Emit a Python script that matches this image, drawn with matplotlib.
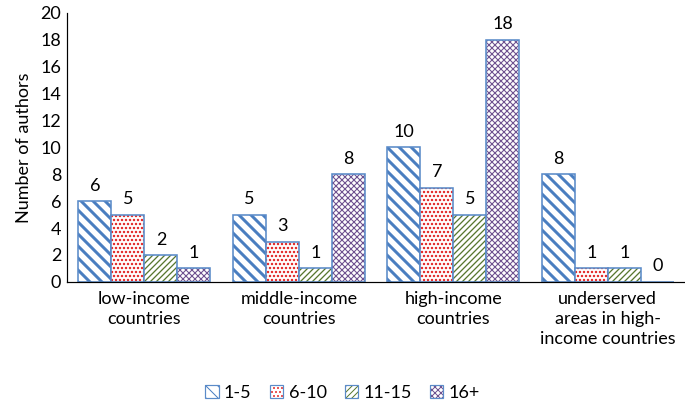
import matplotlib
matplotlib.use('Agg')
import matplotlib.pyplot as plt
import numpy as np

plt.rcParams['font.family'] = ['Lato', 'DejaVu Sans']

# Data
categories = ['low-income\ncountries', 'middle-income\ncountries', 'high-income\ncountries',
              'underserved\nareas in high-\nincome countries']
series_names = ['1-5', '6-10', '11-15', '16+']
s_1_5 = [6, 5, 10, 8]
s_6_10 = [5, 3, 7, 1]
s_11_15 = [2, 1, 5, 1]
s_16_plus = [1, 8, 18, 0]
values = [s_1_5, s_6_10, s_11_15, s_16_plus]

edge_blue = '#5B8BC9'
hatch_colors = ['#4A7EC0', '#E01010', '#587830', '#6F5290']
hatches = ['\\\\', '...', '////', 'xxxx']
hatch_lw = [3.0, 1.6, 1.3, 1.1]

fig = plt.figure(figsize=(685 / 72, 405 / 72), dpi=72)
ax = fig.add_axes([0.098, 0.304, 0.902, 0.664])

x = np.arange(len(categories))
width = 0.214
handles = []
for i, (vals, hc, h, lw) in enumerate(zip(values, hatch_colors, hatches, hatch_lw)):
    pos = x + (i - 1.5) * width
    # hatch fill first, then the blue outline on top
    with plt.rc_context({'hatch.linewidth': lw}):
        ax.bar(pos, vals, width, color='white', edgecolor=hc, hatch=h, linewidth=0)
        fill = plt.Rectangle((0, 0), 1, 1, facecolor='white', edgecolor=hc,
                             hatch=h, linewidth=0)
    ax.bar(pos, vals, width, color='none', edgecolor=edge_blue, linewidth=1.6)
    outline = plt.Rectangle((0, 0), 1, 1, facecolor='none', edgecolor=edge_blue, linewidth=1.2)
    handles.append((fill, outline))
    for p, v in zip(pos, vals):
        ax.text(p, v + 0.55, str(v), ha='center', va='bottom', fontsize=18)

ax.set_xlim(-0.5, 3.5)
ax.set_ylim(0, 20)
ax.set_yticks(range(0, 21, 2))
ax.set_xticks(x)
ax.set_xticklabels(categories, fontsize=18, linespacing=1.3)
ax.tick_params(axis='y', labelsize=18, length=0, pad=6)
ax.tick_params(axis='x', length=0, pad=9)
ax.set_ylabel('Number of authors', fontsize=18, labelpad=8)

for side in ['top', 'right']:
    ax.spines[side].set_visible(False)
ax.spines['left'].set_linewidth(1.2)
ax.spines['bottom'].set_linewidth(1.2)

fig.legend(handles, series_names, loc='center', bbox_to_anchor=(0.5, 0.03), ncol=4,
           frameon=False, fontsize=18, handlelength=0.75, handleheight=0.75,
           handletextpad=0.3, columnspacing=1.0)

plt.savefig('out.png', dpi=72)
plt.close()
